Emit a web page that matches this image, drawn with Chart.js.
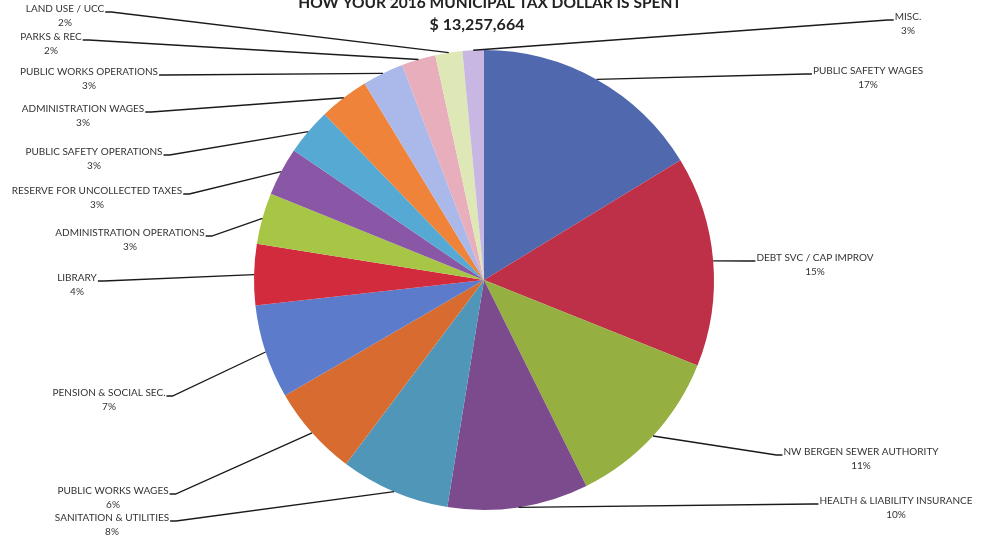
<!DOCTYPE html>
<html>
<head>
<meta charset="utf-8">
<script src="https://cdn.jsdelivr.net/npm/chart.js@4.4.1/dist/chart.umd.min.js"></script>
<style>
  html, body { margin: 0; padding: 0; background: #fff; }
  #wrap { width: 992px; height: 536px; position: relative; }
</style>
</head>
<body>
<div id="wrap"><canvas id="chartGastos" width="992" height="536"></canvas></div>
<script>
// ===========================
// Dados
// ===========================
const categorias = [
  "PUBLIC SAFETY WAGES",
  "DEBT SVC / CAP IMPROV",
  "NW BERGEN SEWER AUTHORITY",
  "HEALTH & LIABILITY INSURANCE",
  "SANITATION & UTILITIES",
  "PUBLIC WORKS WAGES",
  "PENSION & SOCIAL SEC.",
  "LIBRARY",
  "ADMINISTRATION OPERATIONS",
  "RESERVE FOR UNCOLLECTED TAXES",
  "PUBLIC SAFETY OPERATIONS",
  "ADMINISTRATION WAGES",
  "PUBLIC WORKS OPERATIONS",
  "PARKS & REC",
  "LAND USE / UCC",
  "MISC."
];
// fatia de cada categoria (%), estimada pelo ângulo desenhado
const fatias = [16.3, 14.8, 11.6, 9.9, 7.7, 6.4, 6.6, 4.3, 3.6, 3.4, 3.3, 3.5, 2.9, 2.4, 1.9, 1.5];
// percentuais impressos nos rótulos
const rotulosPct = ["17%", "15%", "11%", "10%", "8%", "6%", "7%", "4%", "3%", "3%", "3%", "3%", "3%", "2%", "2%", "3%"];

const titulo = "HOW YOUR 2016 MUNICIPAL TAX DOLLAR IS SPENT";
const total = "$ 13,257,664";

// ===========================
// Estilo
// ===========================
const cores = [
  "#5069AE", "#BE3047", "#95B040", "#7B4B8E",
  "#5096B8", "#D86B30", "#5C7CCB", "#D22B3E",
  "#A8C646", "#8A56A6", "#56A9D2", "#EE8339",
  "#AAB8EA", "#E8AEBB", "#DDE8B6", "#C8B7E2"
];

// posição do texto de cada rótulo (centro x, linha 1 y) e lado da linha-guia
const posRotulos = [
  { x: 868, y: 71,  lado: "dir" },
  { x: 815, y: 258, lado: "dir" },
  { x: 861, y: 452, lado: "dir" },
  { x: 896, y: 501, lado: "dir" },
  { x: 112, y: 518, lado: "esq" },
  { x: 113, y: 491, lado: "esq" },
  { x: 109, y: 393, lado: "esq" },
  { x: 77,  y: 278, lado: "esq" },
  { x: 130, y: 233, lado: "esq" },
  { x: 97,  y: 191, lado: "esq" },
  { x: 94,  y: 152, lado: "esq" },
  { x: 83,  y: 109, lado: "esq" },
  { x: 89,  y: 72,  lado: "esq" },
  { x: 51,  y: 37,  lado: "esq" },
  { x: 65,  y: 9,   lado: "esq" },
  { x: 908, y: 17,  lado: "dir" }
];

const FONTE = "Lato, 'Open Sans', sans-serif";

// ===========================
// Plugin: título + rótulos com linhas-guia
// ===========================
const rotulosPlugin = {
  id: "rotulosPlugin",
  afterDraw(chart) {
    const ctx = chart.ctx;
    const meta = chart.getDatasetMeta(0);
    ctx.save();

    // título
    ctx.fillStyle = "#222";
    ctx.textAlign = "center";
    ctx.textBaseline = "alphabetic";
    ctx.font = "bold 15.5px " + FONTE;
    ctx.fillText(titulo, 490, 8);
    ctx.font = "bold 16px " + FONTE;
    ctx.fillText(total, 477, 30);

    ctx.font = "10px " + FONTE;
    ctx.textBaseline = "middle";
    meta.data.forEach((arc, i) => {
      const p = arc.getProps(["x", "y", "startAngle", "endAngle", "outerRadius"], true);
      const meio = (p.startAngle + p.endAngle) / 2;
      const px = p.x + Math.cos(meio) * p.outerRadius;
      const py = p.y + Math.sin(meio) * p.outerRadius;
      const pos = posRotulos[i];
      const larg = ctx.measureText(categorias[i]).width;
      const yLinha = pos.y + 3;
      let xFim, xDobra;
      if (pos.lado === "esq") {
        xFim = pos.x + larg / 2 + 1;
        xDobra = xFim + 6;
      } else {
        xFim = pos.x - larg / 2 - 1;
        xDobra = xFim - 6;
      }
      ctx.strokeStyle = "#1a1a1a";
      ctx.lineWidth = 1.3;
      ctx.beginPath();
      ctx.moveTo(px, py);
      ctx.lineTo(xDobra, yLinha);
      ctx.lineTo(xFim, yLinha);
      ctx.stroke();

      ctx.fillStyle = "#333";
      ctx.textAlign = "center";
      ctx.fillText(categorias[i], pos.x, pos.y);
      ctx.fillText(rotulosPct[i], pos.x, pos.y + 14);
    });
    ctx.restore();
  }
};

// ===========================
// Gráfico
// ===========================
const ctxGastos = document.getElementById("chartGastos").getContext("2d");
const chartGastos = new Chart(ctxGastos, {
  type: "pie",
  data: {
    labels: categorias,
    datasets: [{
      data: fatias,
      backgroundColor: cores,
      borderWidth: 0
    }]
  },
  options: {
    responsive: false,
    animation: false,
    layout: { padding: { top: 50, bottom: 26, left: 0, right: 24 } },
    plugins: {
      legend: { display: false },
      tooltip: { enabled: false },
      title: { display: false }
    }
  },
  plugins: [rotulosPlugin]
});
</script>
</body>
</html>
